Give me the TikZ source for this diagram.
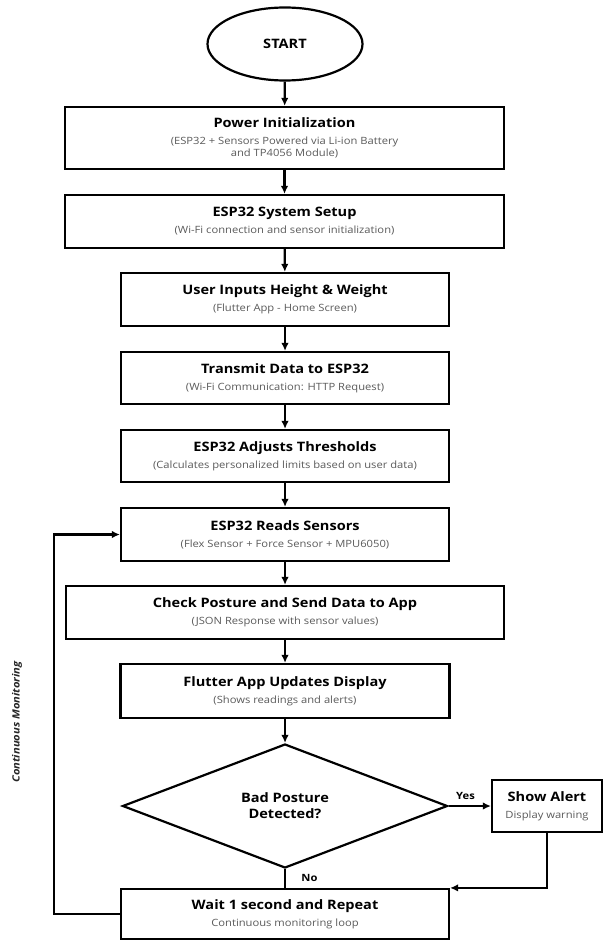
\documentclass[tikz,border=0pt]{standalone}
\usepackage{fontspec}
\setmainfont{Open Sans}[FakeStretch=1.12]
\usetikzlibrary{shapes.geometric,arrows.meta}
\definecolor{subgray}{HTML}{5A5A5A}
\tikzset{
  box/.style={draw=black, line width=2.2pt, rectangle, inner sep=0pt, align=center, fill=white},
  arr/.style={line width=2.2pt, -{Latex[length=8pt,width=7.5pt]}},
  ln/.style={line width=2.2pt},
  lab/.style={font=\bfseries\fontsize{10}{12}\selectfont},
}
\newcommand{\ttl}[1]{{\bfseries\fontsize{13}{16}\selectfont #1}}
\newcommand{\sub}[1]{{\color{subgray}\fontsize{10}{16}\selectfont #1}}
\begin{document}
\begin{tikzpicture}[x=1pt,y=-1pt]
\useasboundingbox (0,0) rectangle (607,941);
\node[draw, line width=2.2pt, ellipse, minimum width=155pt, minimum height=73pt, inner sep=0pt] (start) at (285,44) {\ttl{START}};
\node[box, minimum width=439pt, minimum height=62pt] (power) at (284.5,138) {\ttl{Power Initialization}\\[5pt]\sub{(ESP32 + Sensors Powered via Li-ion Battery}\\\sub{and TP4056 Module)}};
\node[box, minimum width=439pt, minimum height=53pt] (setup) at (284.5,221.5) {\ttl{ESP32 System Setup}\\[5pt]\sub{(Wi-Fi connection and sensor initialization)}};
\node[box, minimum width=328pt, minimum height=53pt] (user) at (285,299.5) {\ttl{User Inputs Height \& Weight}\\[5pt]\sub{(Flutter App - Home Screen)}};
\node[box, minimum width=328pt, minimum height=52pt] (trans) at (285,378) {\ttl{Transmit Data to ESP32}\\[5pt]\sub{(Wi-Fi Communication: HTTP Request)}};
\node[box, minimum width=328pt, minimum height=52pt] (adj) at (285,456) {\ttl{ESP32 Adjusts Thresholds}\\[5pt]\sub{(Calculates personalized limits based on user data)}};
\node[box, minimum width=328pt, minimum height=53pt] (reads) at (285,534.5) {\ttl{ESP32 Reads Sensors}\\[5pt]\sub{(Flex Sensor + Force Sensor + MPU6050)}};
\node[box, minimum width=438pt, minimum height=53pt] (check) at (285,612.5) {\ttl{Check Posture and Send Data to App}\\[5pt]\sub{(JSON Response with sensor values)}};
\node[box, minimum width=329pt, minimum height=54pt] (flut) at (285,691) {\ttl{Flutter App Updates Display}\\[5pt]\sub{(Shows readings and alerts)}};
\node[draw, line width=2.2pt, diamond, aspect=2.62, inner sep=0pt, minimum width=325pt, minimum height=124pt, align=center] (dec) at (285,806) {\ttl{Bad Posture}\\[4pt]\ttl{Detected?}};
\node[box, minimum width=110pt, minimum height=52pt] (alert) at (547,806) {\ttl{Show Alert}\\[5pt]\sub{Display warning}};
\node[box, minimum width=328pt, minimum height=50pt] (wait) at (285,914) {\ttl{Wait 1 second and Repeat}\\[5pt]\sub{Continuous monitoring loop}};
\coordinate (loopc) at (54,914);
\node[rotate=90, font=\bfseries\itshape\fontsize{10}{12}\selectfont, text=black!85] (cm) at (17,722) {Continuous Monitoring};
\draw[arr] (start) -- (power);
\draw[arr] (power) -- (setup);
\draw[arr] (setup) -- (user);
\draw[arr] (user) -- (trans);
\draw[arr] (trans) -- (adj);
\draw[arr] (adj) -- (reads);
\draw[arr] (reads) -- (check);
\draw[arr] (check) -- (flut);
\draw[arr] (flut) -- (dec);
\draw[arr] (dec.east) -- (alert.west) node[lab, pos=0.4, above=2pt] (yes) {Yes};
\draw[ln] (dec.south) -- (wait.north) node[lab, pos=0.45, right=12pt] (no) {No};
\draw[arr] (alert.south) |- (wait.north east);
\draw[arr] (wait.west) -- (loopc) |- (reads.west);
\end{tikzpicture}
\end{document}
